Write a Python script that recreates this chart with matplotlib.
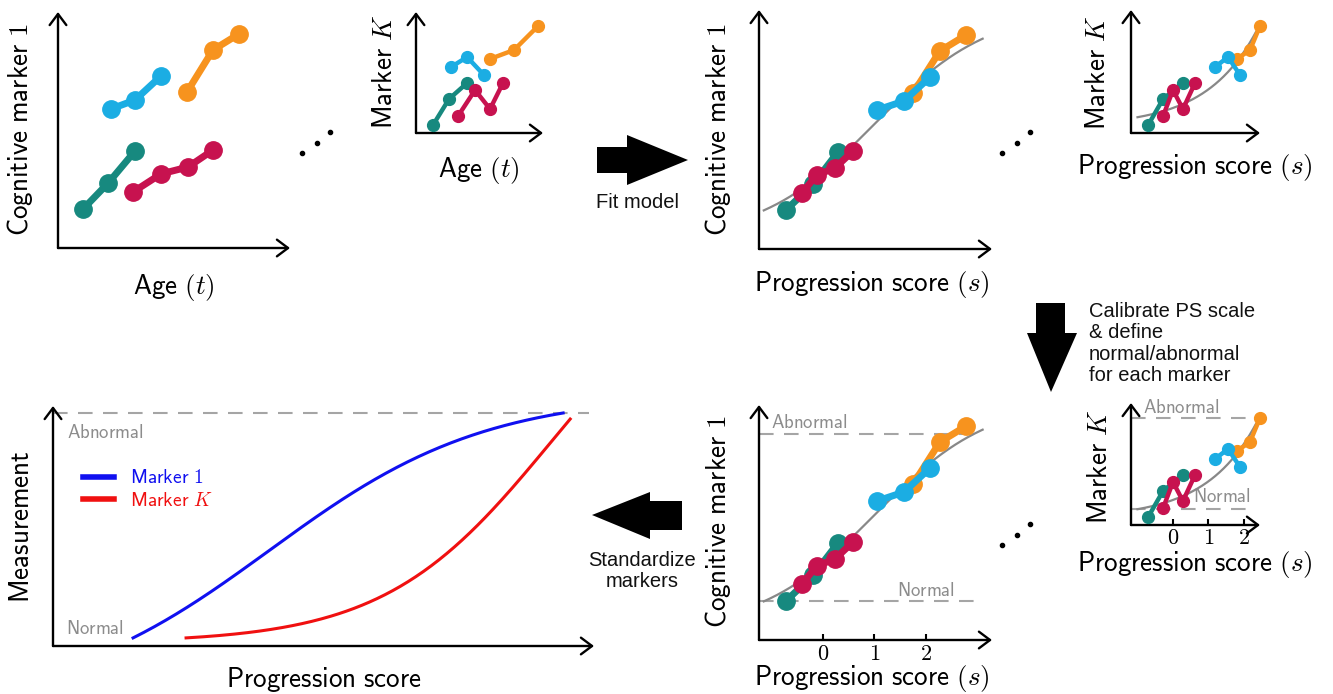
import matplotlib
matplotlib.use("Agg")
import matplotlib.pyplot as plt
import numpy as np
from matplotlib.patches import Polygon

plt.rcParams['mathtext.fontset'] = 'cm'

W, H = 1333, 694

# the four individuals, listed in drawing order
people = ['orange', 'teal', 'magenta', 'cyan']
colors = {'teal': '#17897f', 'magenta': '#c7124f', 'cyan': '#1badE3', 'orange': '#f7931e'}

# cognitive marker 1: age, value and fitted progression score per visit
age_m1 = {
    'teal': [1.08, 2.16, 3.32],
    'magenta': [3.23, 4.44, 5.60, 6.68],
    'cyan': [2.28, 3.32, 4.44],
    'orange': [5.56, 6.68, 7.80],
}
val_m1 = {
    'teal': [1.65, 2.75, 4.11],
    'magenta': [2.37, 3.14, 3.43, 4.15],
    'cyan': [5.89, 6.27, 7.29],
    'orange': [6.61, 8.39, 9.07],
}
ps_m1 = {
    'teal': [-0.72, -0.19, 0.29],
    'magenta': [-0.41, -0.12, 0.23, 0.58],
    'cyan': [1.05, 1.57, 2.08],
    'orange': [1.75, 2.27, 2.78],
}

# marker K
age_mk = {
    'teal': [1.34, 2.60, 4.02],
    'magenta': [3.31, 4.65, 5.83, 6.85],
    'cyan': [2.76, 4.02, 5.35],
    'orange': [5.83, 7.72, 9.61],
}
val_mk = {
    'teal': [0.66, 2.81, 4.13],
    'magenta': [1.40, 3.55, 1.98, 4.13],
    'cyan': [5.45, 6.28, 4.79],
    'orange': [6.12, 6.86, 8.84],
}
ps_mk = {
    'teal': [-0.70, -0.28, 0.28],
    'magenta': [-0.28, 0.0, 0.28, 0.62],
    'cyan': [1.18, 1.55, 1.89],
    'orange': [1.80, 2.17, 2.45],
}

# fitted trajectories
m1_base, m1_height, m1_rate, m1_mid, m1_srange = 0.4, 9.8, 0.9, 1.0, (-1.15, 3.1)
mk_base, mk_scale, mk_rate, mk_srange = 0.55, 1.52, 0.7, (-1.0, 2.33)

# calibrated normal / abnormal levels
m1_normal, m1_abnormal = 1.65, 8.73
mk_normal, mk_abnormal = 1.32, 8.84
ps_ticks = [0, 1, 2]

# standardized curves (bottom left): x range, rate, midpoint, end level
std_m1 = dict(x0=1.48, x1=9.43, rate=0.5, mid=4.0, top=1.0)
std_mk = dict(x0=2.46, x1=9.56, rate=0.65, mid=9.2, top=0.973)

GREY_TXT = '#8c8c8c'
GREY_DASH = '#a5a5a5'
LBL = 19.5
SMALL = 13.5


def sf(s):
    # computer modern sans text
    return r'$\mathsf{' + s.replace(' ', r'\ ') + '}$'


AGE = r'$\mathsf{Age}\ (t)$'
PS = r'$\mathsf{Progression\ score}\ (s)$'
MK = r'$\mathsf{Marker}\ K$'
CM1 = sf('Cognitive marker 1')

fig = plt.figure(figsize=(W / 100, H / 100), dpi=100)
bg = fig.add_axes([0, 0, 1, 1], zorder=0)
bg.set_xlim(0, W)
bg.set_ylim(H, 0)
bg.axis('off')


def panel(x0, y0, x1, y1, xlim, ylim):
    # origin at pixel (x0, y0), x arrow ends at x1, y arrow ends at y1
    ax = fig.add_axes([x0 / W, 1 - y0 / H, (x1 - x0) / W, (y0 - y1) / H], zorder=2)
    ax.set_xlim(*xlim)
    ax.set_ylim(*ylim)
    ax.patch.set_visible(False)
    for sp in ax.spines.values():
        sp.set_visible(False)
    ax.set_xticks([])
    ax.set_yticks([])
    arrow = dict(arrowstyle='->,head_length=0.4,head_width=0.3', lw=1.7, color='black',
                 shrinkA=0, shrinkB=0, mutation_scale=20)
    ax.annotate('', xy=(1, 0), xytext=(0, 0), xycoords='axes fraction', arrowprops=arrow)
    ax.annotate('', xy=(0, 1), xytext=(0, 0), xycoords='axes fraction', arrowprops=arrow)
    return ax


def draw_people(ax, xs, ys, big):
    lw, ms = (5, 12.5) if big else (3.2, 8.5)
    for p in people:
        ax.plot(xs[p], ys[p], '-o', color=colors[p], lw=lw, ms=ms, clip_on=False, zorder=3)


def curve_m1(ax):
    s = np.linspace(*m1_srange, 200)
    ax.plot(s, m1_base + m1_height / (1 + np.exp(-m1_rate * (s - m1_mid))),
            color='#888888', lw=1.6, zorder=2)


def curve_mk(ax):
    s = np.linspace(*mk_srange, 200)
    ax.plot(s, mk_base + mk_scale * np.exp(mk_rate * s), color='#888888', lw=1.6, zorder=2)


def ps_axis(ax, pad):
    ax.set_xticks(ps_ticks)
    ax.set_xticklabels([f'${t}$' for t in ps_ticks], fontsize=16)
    ax.tick_params(axis='x', direction='in', length=4, width=1.5, pad=pad)


# --- top row: raw data vs age
ax1 = panel(58, 248, 290, 12, (0, 10), (0, 10))
draw_people(ax1, age_m1, val_m1, True)
bg.text(20, 130, CM1, rotation=90, ha='center', va='center', fontsize=LBL)
bg.text(174, 287, AGE, ha='center', va='center', fontsize=LBL)

ax2 = panel(416, 133, 543, 12, (0, 10), (0, 10))
draw_people(ax2, age_mk, val_mk, False)
bg.text(385, 72, MK, rotation=90, ha='center', va='center', fontsize=LBL)
bg.text(479, 170, AGE, ha='center', va='center', fontsize=LBL)

# --- top row: fitted model vs progression score
ax3 = panel(759, 249, 992, 10, (-1.243, 3.282), (0, 10.13))
curve_m1(ax3)
draw_people(ax3, ps_m1, val_m1, True)
bg.text(718, 130, CM1, rotation=90, ha='center', va='center', fontsize=LBL)
bg.text(872, 284, PS, ha='center', va='center', fontsize=LBL)

ax4 = panel(1131, 133, 1260, 10, (-1.183, 2.451), (0, 10.17))
curve_mk(ax4)
draw_people(ax4, ps_mk, val_mk, False)
bg.text(1098, 73, MK, rotation=90, ha='center', va='center', fontsize=LBL)
bg.text(1195, 167, PS, ha='center', va='center', fontsize=LBL)

# --- bottom right: calibrated panels
ax5 = panel(759, 640, 992, 405, (-1.243, 3.282), (0, 9.96))
curve_m1(ax5)
for lvl in (m1_normal, m1_abnormal):
    ax5.axhline(lvl, xmax=0.96, color=GREY_DASH, lw=1.5, dashes=(7, 5), zorder=1)
draw_people(ax5, ps_m1, val_m1, True)
ps_axis(ax5, 3)
bg.text(771, 422, sf('Abnormal'), ha='left', va='center', fontsize=SMALL, color=GREY_TXT)
bg.text(955, 590, sf('Normal'), ha='right', va='center', fontsize=SMALL, color=GREY_TXT)
bg.text(718, 522, CM1, rotation=90, ha='center', va='center', fontsize=LBL)
bg.text(872, 679, PS, ha='center', va='center', fontsize=LBL)

ax6 = panel(1131, 525, 1260, 403, (-1.183, 2.451), (0, 10.08))
curve_mk(ax6)
ax6.axhline(mk_abnormal, xmax=1.0, color=GREY_DASH, lw=1.5, dashes=(7, 5), zorder=1)
ax6.axhline(mk_normal, xmax=0.95, color=GREY_DASH, lw=1.5, dashes=(7, 5), zorder=1)
draw_people(ax6, ps_mk, val_mk, False)
ps_axis(ax6, 2)
bg.text(1143, 407, sf('Abnormal'), ha='left', va='center', fontsize=SMALL, color=GREY_TXT)
bg.text(1193, 496, sf('Normal'), ha='left', va='center', fontsize=SMALL, color=GREY_TXT)
bg.text(1100, 467, MK, rotation=90, ha='center', va='center', fontsize=LBL)
bg.text(1195, 565, PS, ha='center', va='center', fontsize=LBL)

# --- bottom left: standardized markers
ax7 = panel(53, 646, 594, 406, (0, 10), (-0.036, 1.031))
ax7.axhline(1.0, xmax=0.99, color=GREY_DASH, lw=1.5, dashes=(7, 5), zorder=1)
for prm, col, lab in ((std_m1, '#1010f0', sf('Marker 1')), (std_mk, '#f01010', MK)):
    x = np.linspace(prm['x0'], prm['x1'], 200)
    L = 1 / (1 + np.exp(-prm['rate'] * (x - prm['mid'])))
    L0, L1 = L[0], L[-1]
    ax7.plot(x, prm['top'] * (L - L0) / (L1 - L0), color=col, lw=2.2, label=lab, clip_on=False)
leg = ax7.legend(loc='upper left', bbox_to_anchor=(0.055, 0.74), frameon=False, borderpad=0,
                 borderaxespad=0, handlelength=1.6, handletextpad=0.85, labelspacing=0.2,
                 labelcolor='linecolor', fontsize=14)
for h in leg.legend_handles:
    h.set_linewidth(4)
bg.text(67, 432, sf('Abnormal'), ha='left', va='center', fontsize=SMALL, color=GREY_TXT)
bg.text(66, 629, sf('Normal'), ha='left', va='center', fontsize=SMALL, color=GREY_TXT)
bg.text(22, 527, sf('Measurement'), rotation=90, ha='center', va='center', fontsize=LBL)
bg.text(324, 679, sf('Progression score'), ha='center', va='center', fontsize=LBL)

# --- block arrows and their captions
arrows = [
    [(597, 147), (627, 147), (627, 135), (688, 160), (627, 185), (627, 173), (597, 173)],
    [(1036, 303), (1065, 303), (1065, 333), (1077, 333), (1051, 392), (1027, 333), (1036, 333)],
    [(682, 501), (650, 501), (650, 492), (592, 515), (650, 539), (650, 530), (682, 530)],
]
for pts in arrows:
    bg.add_patch(Polygon(pts, closed=True, color='black', lw=0))

TXT = dict(family='Liberation Sans', fontsize=14.5, color='#111111')
bg.text(637, 202, 'Fit model', ha='center', va='center', **TXT)
bg.text(1089, 302, 'Calibrate PS scale\n& define\nnormal/abnormal\nfor each marker',
        ha='left', va='top', linespacing=1.15, **TXT)
bg.text(642, 571, 'Standardize\nmarkers', ha='center', va='center', linespacing=1.1, **TXT)

# ellipsis dots between marker panels
for dx, dy in ((0, 0), (700, 0), (700, 392)):
    bg.plot(np.array([302, 317, 330]) + dx, np.array([153, 143, 132]) + dy, 'o',
            color='black', ms=3)

fig.savefig('out.png', dpi=100)
